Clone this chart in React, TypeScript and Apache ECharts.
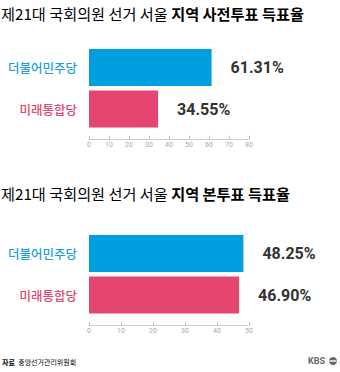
import React, { useEffect, useRef } from "react";
import * as echarts from "echarts";

const parties = ["더불어민주당", "미래통합당"];
const earlyVotes = [61.31, 34.55];
const mainVotes = [48.25, 46.9];
const earlyMax = 80;
const mainMax = 50;
const tickInterval = 10;
const title1 = ["제21대 국회의원 선거 ", "서울", " 지역 사전투표 득표율"];
const title2 = ["제21대 국회의원 선거 ", "서울", " 지역 본투표 득표율"];
const sourceLabel = "자료";
const sourceText = "중앙선거관리위원회";

const BLUE = "#009fe0";
const PINK = "#e5466f";
const KR = "'Noto Sans CJK KR', sans-serif";
const NUM = "Roboto, 'Noto Sans CJK KR', sans-serif";

function titleGraphic(parts: string[], y: number) {
  return {
    type: "text",
    left: 1,
    top: y,
    style: {
      text: `{a|${parts[0]}}{b|${parts[1]}}{c|${parts[2]}}`,
      rich: {
        a: { fontSize: 15.2, color: "#444", fontFamily: KR },
        b: { fontSize: 15.2, color: "#7b9be2", fontFamily: KR },
        c: { fontSize: 15.2, color: "#222", fontWeight: "bold", fontFamily: KR },
      },
    },
  };
}

export default function App() {
  const ref = useRef<HTMLDivElement>(null);
  useEffect(() => {
    document.body.style.margin = "0";
    const chart = echarts.init(ref.current!, null, { renderer: "svg" });
    const yAxisBase = (gridIndex: number) => ({
      type: "category",
      gridIndex,
      data: parties,
      inverse: true,
      axisLine: { show: false },
      axisTick: { show: false },
      axisLabel: {
        margin: 12,
        formatter: (v: string, i: number) => (i === 0 ? `{a|${v}}` : `{b|${v}}`),
        rich: {
          a: { color: "#1d9fdb", fontSize: 12.5, fontWeight: 500, fontFamily: KR },
          b: { color: "#e0486f", fontSize: 12.5, fontWeight: 500, fontFamily: KR },
        },
      },
    });
    const xAxisBase = (gridIndex: number, max: number) => ({
      type: "value",
      gridIndex,
      min: 0,
      max,
      interval: tickInterval,
      offset: 9,
      splitLine: { show: false },
      axisLine: { show: true, lineStyle: { color: "#cccccc", width: 1 } },
      axisTick: { show: true, inside: true, length: 3, lineStyle: { color: "#bbbbbb" } },
      axisLabel: { color: "#aaaaaa", fontSize: 7, margin: 3, fontFamily: NUM },
    });
    const seriesBase = (i: number, data: number[]) => ({
      type: "bar",
      xAxisIndex: i,
      yAxisIndex: i,
      barWidth: 37,
      data: data.map((v, k) => ({ value: v, itemStyle: { color: k === 0 ? BLUE : PINK } })),
      label: {
        show: true,
        position: "right",
        distance: 19,
        formatter: (p: any) => `${Number(p.value).toFixed(2)}%`,
        fontSize: 16,
        fontWeight: "bold",
        color: "#333",
        fontFamily: NUM,
      },
    });
    chart.setOption({
      animation: false,
      grid: [
        { left: 89, width: 160, top: 46.75, height: 83 },
        { left: 89, width: 160, top: 232.75, height: 83 },
      ],
      xAxis: [xAxisBase(0, earlyMax), xAxisBase(1, mainMax)],
      yAxis: [yAxisBase(0), yAxisBase(1)],
      series: [seriesBase(0, earlyVotes), seriesBase(1, mainVotes)],
      graphic: [
        titleGraphic(title1, 5),
        titleGraphic(title2, 185),
        {
          type: "text",
          left: 2,
          top: 356,
          style: {
            text: `{a|${sourceLabel}} {b|${sourceText}}`,
            rich: {
              a: { fontSize: 7, fontWeight: "bold", color: "#444", fontFamily: KR },
              b: { fontSize: 7, color: "#999", fontFamily: KR },
            },
          },
        },
        {
          type: "text",
          left: 308,
          top: 356,
          style: { text: "KBS", fontSize: 9, fontWeight: "bold", fill: "#666", fontFamily: NUM },
        },
        { type: "circle", shape: { cx: 333, cy: 361, r: 4 }, style: { fill: "#666" } },
        { type: "rect", shape: { x: 329.5, y: 360.3, width: 7, height: 1.4 }, style: { fill: "#fff" } },
      ],
    });
    return () => chart.dispose();
  }, []);
  return <div ref={ref} style={{ width: 340, height: 372 }} />;
}
